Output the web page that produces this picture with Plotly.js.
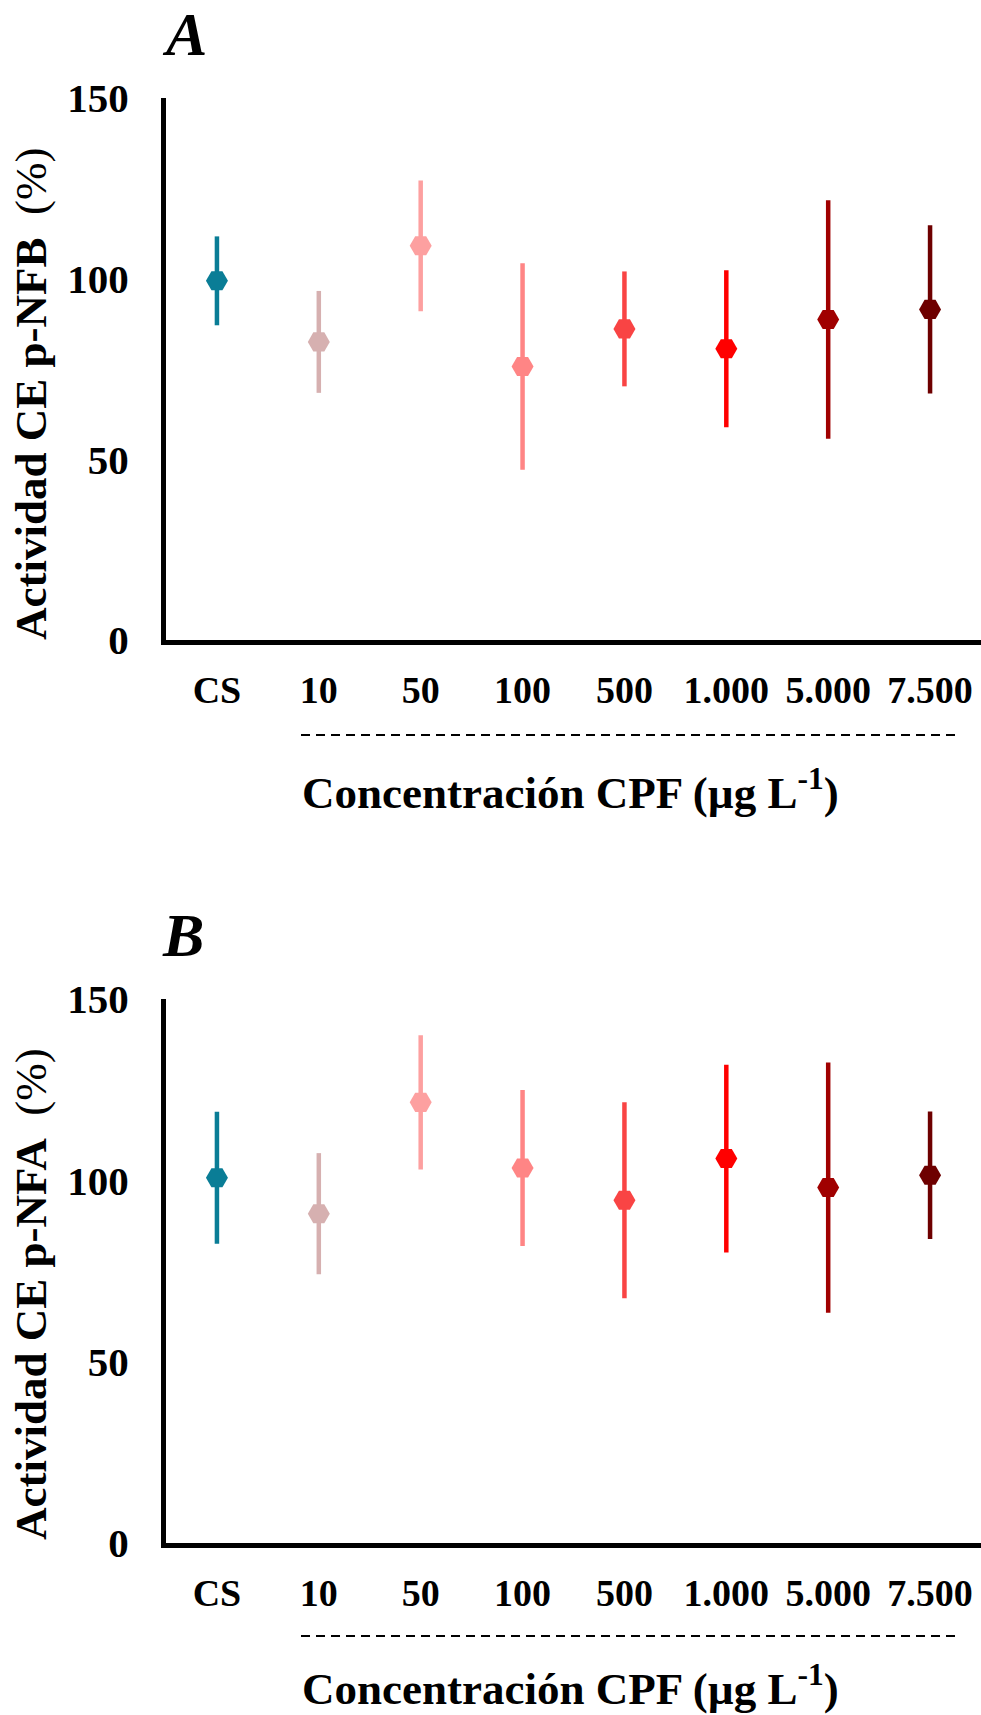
<!DOCTYPE html>
<html>
<head>
<meta charset="utf-8">
<script src="https://cdn.plot.ly/plotly-3.0.1.min.js"></script>
<style>
  html, body { margin: 0; padding: 0; background: #fff; }
  #chart { width: 981px; height: 1715px; }
</style>
</head>
<body>
<div id="chart"></div>
<script>
// ---- data ----
const categories = ['CS', '10', '50', '100', '500', '1.000', '5.000', '7.500'];
const colors = ['#0a7d96', '#d6b0b0', '#fda0a0', '#ff8585', '#f94444', '#ff0000', '#a00000', '#6e0000'];
const meanA = [99.4, 82.5, 109.1, 75.7, 86.1, 80.6, 88.7, 91.5];
const errA  = [12.3, 14.1, 18.1, 28.6, 15.9, 21.7, 33.0, 23.3];
const meanB = [100.7, 90.8, 121.5, 103.4, 94.5, 106.0, 98.0, 101.4];
const errB  = [18.2, 16.7, 18.5, 21.5, 27.0, 25.9, 34.5, 17.6];
const yTicks = [0, 50, 100, 150];

// ---- helpers ----
const W = 981, H = 1715;
const px = x => x / W;
const py = y => 1 - y / H;
const FONT = 'Liberation Serif, Times New Roman, serif';

function panelTraces(means, errs, xa, ya) {
  return categories.map((c, i) => ({
    type: 'scatter',
    mode: 'markers',
    x: [c],
    y: [means[i]],
    xaxis: xa,
    yaxis: ya,
    showlegend: false,
    hoverinfo: 'skip',
    marker: { symbol: 'hexagon2', size: 22, color: colors[i], line: { width: 0 } },
    error_y: { type: 'data', array: [errs[i]], visible: true, color: colors[i], thickness: 4.5, width: 0 }
  }));
}

const data = [
  ...panelTraces(meanA, errA, 'x', 'y'),
  ...panelTraces(meanB, errB, 'x2', 'y2')
];

function xAxis(anchor) {
  return {
    anchor: anchor,
    domain: [px(166), 1],
    type: 'category',
    categoryorder: 'array',
    categoryarray: categories,
    range: [-0.5, 7.5],
    showline: true, linecolor: '#000', linewidth: 5,
    showgrid: false, zeroline: false,
    ticks: '',
    ticklabelstandoff: 12,
    tickfont: { family: FONT, size: 38, color: '#000', weight: 'bold' },
    fixedrange: true
  };
}
function yAxis(anchor, dom) {
  return {
    anchor: anchor,
    domain: dom,
    range: [0, 150],
    tickvals: yTicks,
    ticktext: yTicks.map(String),
    showline: true, linecolor: '#000', linewidth: 5,
    showgrid: false, zeroline: false,
    ticks: '',
    ticklabelstandoff: 24,
    tickfont: { family: FONT, size: 41, color: '#000', weight: 'bold' },
    fixedrange: true
  };
}

const xTitle = 'Concentración CPF (µg L<sup>-1</sup>)';

const layout = {
  width: W, height: H,
  margin: { l: 0, r: 0, t: 0, b: 0, pad: 0 },
  paper_bgcolor: '#fff', plot_bgcolor: '#fff',
  showlegend: false,
  xaxis: xAxis('y'),
  yaxis: yAxis('x', [py(640), py(98)]),
  xaxis2: xAxis('y2'),
  yaxis2: yAxis('x2', [py(1543), py(999)]),
  annotations: [
    { xref: 'paper', yref: 'paper', x: px(160), y: py(34), xanchor: 'left', yanchor: 'middle', showarrow: false,
      text: '<b><i>A</i></b>', font: { family: FONT, size: 62, color: '#000' } },
    { xref: 'paper', yref: 'paper', x: px(160), y: py(935), xanchor: 'left', yanchor: 'middle', showarrow: false,
      text: '<b><i>B</i></b>', font: { family: FONT, size: 62, color: '#000' } },
    { xref: 'paper', yref: 'paper', x: px(31), y: py(394), xanchor: 'center', yanchor: 'middle', showarrow: false, textangle: -90,
      text: '<b>Actividad CE p-NFB</b>&nbsp;&nbsp;(%)', font: { family: FONT, size: 45, color: '#000' } },
    { xref: 'paper', yref: 'paper', x: px(31), y: py(1294), xanchor: 'center', yanchor: 'middle', showarrow: false, textangle: -90,
      text: '<b>Actividad CE p-NFA</b>&nbsp;&nbsp;(%)', font: { family: FONT, size: 45, color: '#000' } },
    { xref: 'paper', yref: 'paper', x: px(570), y: py(789), xanchor: 'center', yanchor: 'middle', showarrow: false,
      text: '<b>' + xTitle + '</b>', font: { family: FONT, size: 45, color: '#000' } },
    { xref: 'paper', yref: 'paper', x: px(570), y: py(1685), xanchor: 'center', yanchor: 'middle', showarrow: false,
      text: '<b>' + xTitle + '</b>', font: { family: FONT, size: 45, color: '#000' } }
  ],
  shapes: [
    { type: 'line', xref: 'paper', yref: 'paper', x0: px(301), x1: px(961), y0: py(735), y1: py(735),
      line: { color: '#000', width: 2, dash: '9px,6px' } },
    { type: 'line', xref: 'paper', yref: 'paper', x0: px(301), x1: px(961), y0: py(1636), y1: py(1636),
      line: { color: '#000', width: 2, dash: '9px,6px' } }
  ]
};

Plotly.newPlot('chart', data, layout, { displayModeBar: false, staticPlot: true });
</script>
</body>
</html>
